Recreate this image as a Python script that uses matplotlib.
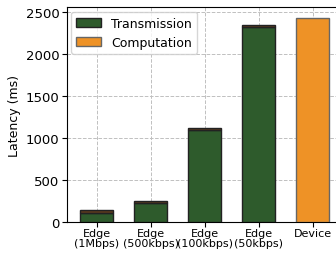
import numpy as np
import matplotlib.pyplot as plt

categories = ["Edge\n(1Mbps)", "Edge\n(500kbps)", "Edge\n(100kbps)", "Edge\n(50kbps)", "Device"]
transmission = [113, 223, 1098, 2322, 0]
edge_compute = [27, 27, 27, 27, 0]
device_compute = [0, 0, 0, 0, 2436]

green = "#2e5b2c"
brown = "#5b3a1e"
orange = "#ee9226"

fig = plt.figure(figsize=(3.36, 2.55), dpi=100)
ax = fig.add_axes([0.1994, 0.125, 0.8196, 0.843])

x = np.arange(len(categories))
w = 0.6
ax.bar(x, transmission, w, color=green, edgecolor="#222222", linewidth=1, label="Transmission", zorder=3)
ax.bar(x[:4], edge_compute[:4], w, bottom=transmission[:4], color=brown, edgecolor="#222222", linewidth=1, zorder=3)
ax.bar(x[4:], device_compute[4:], w, color=orange, edgecolor="#666666", linewidth=1, label="Computation", zorder=3)

ax.set_xlim(-0.55, 4.55)
ax.set_ylim(0, 2562)
ax.set_yticks([0, 500, 1000, 1500, 2000, 2500])
ax.set_xticks(x)
ax.set_xticklabels(categories, fontsize=8, linespacing=0.9)
ax.tick_params(axis="x", pad=1)
ax.tick_params(axis="y", labelsize=9.5, pad=2)
ax.set_ylabel("Latency (ms)", fontsize=9, labelpad=3)
ax.grid(True, linestyle="--", color="#c0c0c0", linewidth=0.7, zorder=0)
ax.legend(loc="upper left", fontsize=9, handlelength=2.0, borderaxespad=0.35)

fig.savefig("out.png", dpi=100)
